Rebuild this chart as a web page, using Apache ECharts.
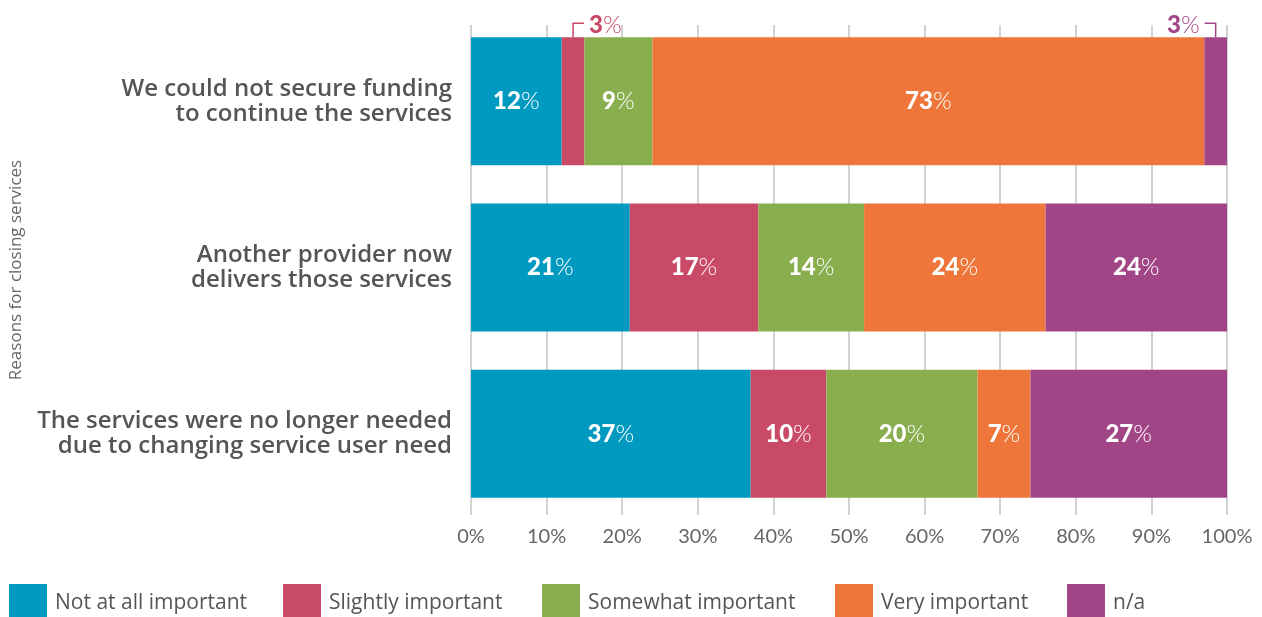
<!DOCTYPE html>
<html>
<head>
<meta charset="utf-8">
<script src="https://cdn.jsdelivr.net/npm/echarts@6/dist/echarts.min.js"></script>
<style>
  html, body { margin: 0; padding: 0; background: #fff; }
  #chart { width: 1262px; height: 617px; }
</style>
</head>
<body>
<div id="chart"></div>
<script>
// Reasons for closing services, share of responses per importance level
const categories = [
  'We could not secure funding\nto continue the services',
  'Another provider now\ndelivers those services',
  'The services were no longer needed\ndue to changing service user need'
];
const seriesNames = ['Not at all important', 'Slightly important', 'Somewhat important', 'Very important', 'n/a'];
const notAtAll = [12, 21, 37];
const slightly = [3, 17, 10];
const somewhat = [9, 14, 20];
const veryImportant = [73, 24, 7];
const notApplicable = [3, 24, 27];
const xTickValues = [0, 10, 20, 30, 40, 50, 60, 70, 80, 90, 100];
const axisName = 'Reasons for closing services';

const colors = ['#0099BF', '#C94A66', '#88AE4E', '#EE763A', '#A24586'];
const allValues = [notAtAll, slightly, somewhat, veryImportant, notApplicable];
const legendLefts = [9, 283, 542, 835, 1067];
const SMALL = 5;          // segments narrower than this get an outside callout
const BAR_WIDTH = 128;

const numFont = 'Lato';
const textFont = 'Open Sans';

// callout items for narrow segments: [centre value, row, value, series index]
const callouts = [];
categories.forEach((c, r) => {
  let cum = 0;
  allValues.forEach((arr, s) => {
    const v = arr[r];
    if (v < SMALL) callouts.push([cum + v / 2, r, v, s]);
    cum += v;
  });
});

const chart = echarts.init(document.getElementById('chart'), null, { renderer: 'canvas' });

const barSeries = seriesNames.map((name, s) => ({
  name: name,
  type: 'bar',
  stack: 'total',
  xAxisIndex: 1,
  yAxisIndex: 1,
  barWidth: BAR_WIDTH,
  itemStyle: { color: colors[s] },
  emphasis: { disabled: true },
  label: {
    show: true,
    position: 'inside',
    formatter: p => (p.value < SMALL ? '' : '{b|' + p.value + '}{p|%}'),
    rich: {
      b: { fontFamily: numFont, fontSize: 24, fontWeight: 900, color: '#fff' },
      p: { fontFamily: numFont, fontSize: 24, fontWeight: 300, color: '#fff' }
    }
  },
  data: allValues[s]
}));

const calloutSeries = {
  type: 'custom',
  xAxisIndex: 1,
  yAxisIndex: 1,
  silent: true,
  data: callouts,
  renderItem: function (params, api) {
    const pt = api.coord([api.value(0), api.value(1)]);
    const s = api.value(3);
    const col = colors[s];
    const top = pt[1] - BAR_WIDTH / 2;
    const elbowY = top - 14;
    const dir = api.value(0) > 50 ? -1 : 1;
    const endX = pt[0] + dir * 11;
    return {
      type: 'group',
      children: [
        {
          type: 'polyline',
          shape: { points: [[pt[0], top], [pt[0], elbowY], [endX, elbowY]] },
          style: { stroke: col, lineWidth: 1.5, fill: null }
        },
        {
          type: 'text',
          style: {
            text: '{b|' + api.value(2) + '}{p|%}',
            x: endX + dir * 5,
            y: elbowY + 2,
            align: dir > 0 ? 'left' : 'right',
            verticalAlign: 'middle',
            rich: {
              b: { fontFamily: numFont, fontSize: 24, fontWeight: 900, fill: col },
              p: { fontFamily: numFont, fontSize: 24, fontWeight: 300, fill: col }
            }
          }
        }
      ]
    };
  }
};

chart.setOption({
  animation: false,
  textStyle: { fontFamily: textFont },
  grid: [
    { left: 471, right: 35, top: 25, height: 490 },
    { left: 471, right: 35, top: 18, height: 499 }
  ],
  legend: seriesNames.map((n, i) => ({
    data: [n],
    left: legendLefts[i],
    top: 584,
    padding: 0,
    icon: 'rect',
    itemWidth: 38,
    itemHeight: 38,
    selectedMode: false,
    textStyle: { fontFamily: textFont, fontSize: 21, color: '#555', padding: [0, 0, 0, 3] }
  })),
  xAxis: [
    {
      gridIndex: 0,
      type: 'value',
      min: xTickValues[0],
      max: xTickValues[xTickValues.length - 1],
      interval: xTickValues[1] - xTickValues[0],
      axisLine: { show: false },
      axisTick: { show: false },
      splitLine: { show: true, lineStyle: { color: '#d2d2d2', width: 2 } },
      axisLabel: { formatter: '{value}%', fontFamily: numFont, fontSize: 20, color: '#666', margin: 12 }
    },
    {
      gridIndex: 1,
      type: 'value',
      min: xTickValues[0],
      max: xTickValues[xTickValues.length - 1],
      show: false
    }
  ],
  yAxis: [
    {
      gridIndex: 0,
      type: 'category',
      data: categories,
      inverse: true,
      axisLine: { show: false },
      axisTick: { show: false },
      axisLabel: { show: false },
      name: axisName,
      nameLocation: 'middle',
      nameRotate: 90,
      nameGap: 446,
      nameTextStyle: { fontFamily: textFont, fontSize: 17, color: '#666' }
    },
    {
      gridIndex: 1,
      type: 'category',
      data: categories,
      inverse: true,
      axisLine: { show: false },
      axisTick: { show: false },
      axisLabel: {
        margin: 19,
        fontFamily: textFont,
        fontSize: 24,
        fontWeight: 600,
        lineHeight: 25,
        padding: [5, 0, 0, 0],
        color: '#555',
        align: 'right'
      }
    }
  ],
  series: barSeries.concat([calloutSeries])
});
</script>
</body>
</html>
